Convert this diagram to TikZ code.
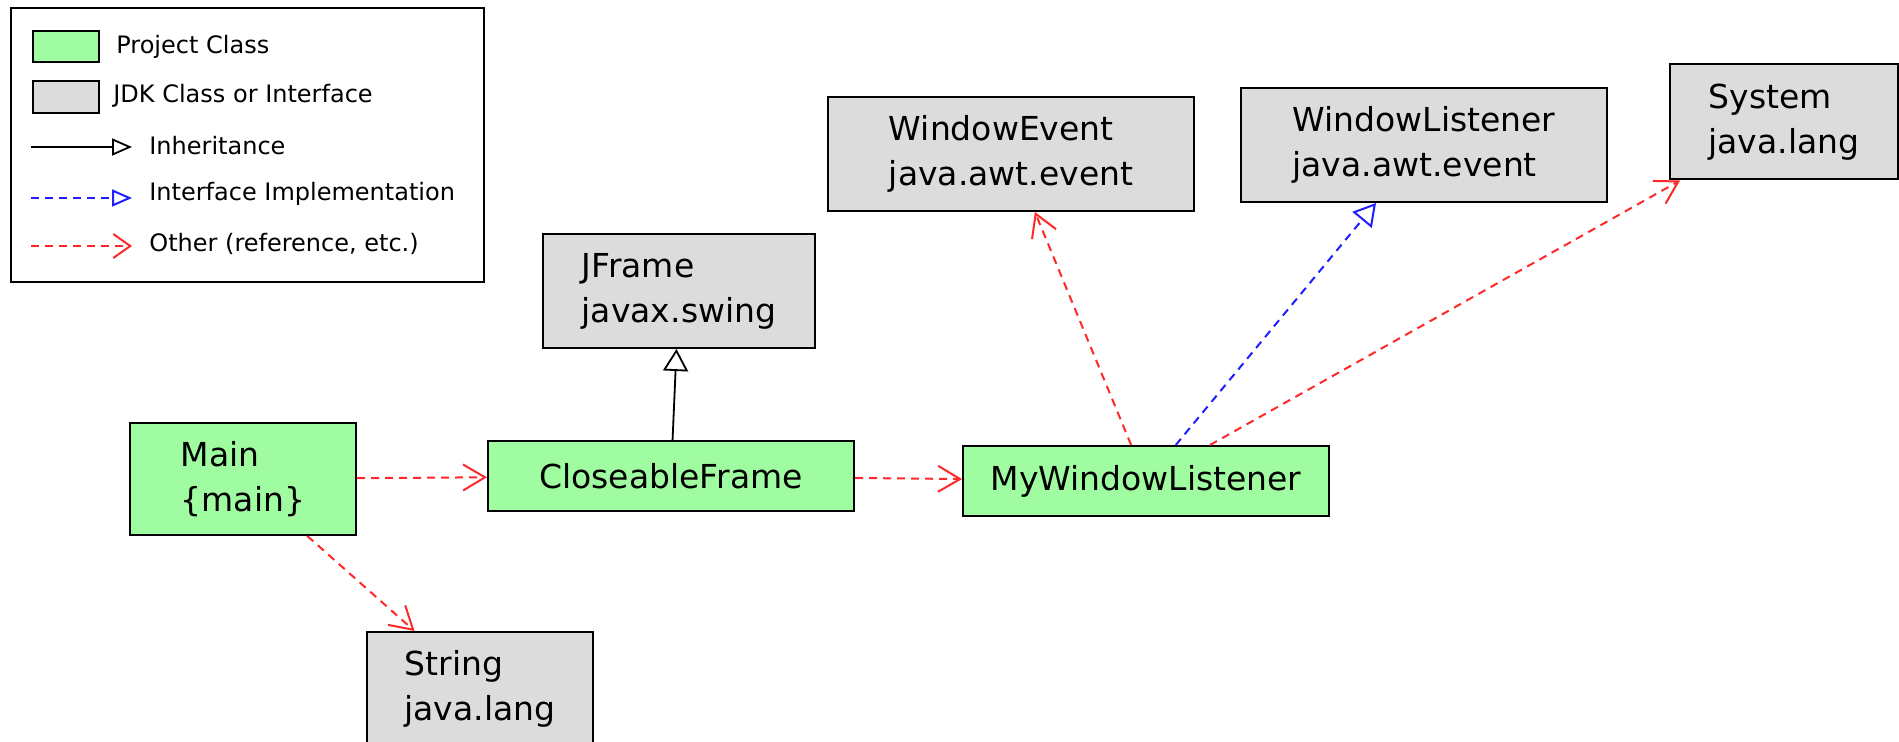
\documentclass[tikz,border=0pt]{standalone}
\usepackage{fontspec}
\setmainfont{DejaVu Sans}
\usetikzlibrary{arrows.meta}
\definecolor{projgreen}{RGB}{160,252,160}
\definecolor{jdkgray}{RGB}{220,220,220}
\definecolor{refred}{RGB}{255,40,40}
\definecolor{implblue}{RGB}{30,30,255}
\begin{document}
\begin{tikzpicture}[x=0.5pt,y=-0.5pt,
  classbox/.style={draw=black, line width=1pt, inner sep=0pt, align=left, font=\fontsize{16.5}{22.5}\selectfont},
  projclass/.style={classbox, fill=projgreen},
  jdkclass/.style={classbox, fill=jdkgray},
  legtext/.style={anchor=west, inner sep=0pt, font=\fontsize{12}{14}\selectfont},
  inhline/.style={line width=0.9pt, -{Triangle[open, length=11pt, width=12.5pt]}},
  implline/.style={draw=implblue, line width=1pt, dash pattern=on 4pt off 3pt, -{Triangle[open, length=11pt, width=12.5pt]}},
  refline/.style={draw=refred, line width=1pt, dash pattern=on 4pt off 3pt, -{Straight Barb[length=11pt, width=13pt]}}]
\useasboundingbox (0,0) rectangle (1899,742);

\draw[line width=1pt] (11,8) rectangle (484,282);
\node[projclass, minimum width=33pt, minimum height=15.5pt] (legproj) at (66,46.5) {};
\node[legtext] (legprojtxt) at (116,47) {Project Class};
\node[jdkclass, minimum width=33pt, minimum height=16pt] (legjdk) at (66,97) {};
\node[legtext] (legjdktxt) at (113,96) {JDK Class or Interface};
\coordinate (leginhA) at (31,147);
\coordinate (leginhB) at (132,147);
\draw[inhline, -{Triangle[open, length=10pt, width=8.5pt]}] (leginhA) -- (leginhB);
\node[legtext] (leginhtxt) at (149,146) {Inheritance};
\coordinate (legimplA) at (31,198);
\coordinate (legimplB) at (132,198);
\draw[implline, -{Triangle[open, length=10pt, width=8.5pt]}] (legimplA) -- (legimplB);
\node[legtext] (legimpltxt) at (149,194) {Interface Implementation};
\coordinate (legrefA) at (31,246);
\coordinate (legrefB) at (132,246);
\draw[refline, -{Straight Barb[length=8.5pt, width=12pt]}] (legrefA) -- (legrefB);
\node[legtext] (legreftxt) at (149,244) {Other (reference, etc.)};

\node[projclass, minimum width=113pt, minimum height=56pt] (main) at (243,479) {Main\\\{main\}};
\node[projclass, minimum width=183pt, minimum height=35pt] (cf) at (671,476) {CloseableFrame};
\node[projclass, minimum width=183pt, minimum height=35pt] (mwl) at (1146,481) {MyWindowListener};
\node[jdkclass, minimum width=136pt, minimum height=57pt] (jframe) at (679,291) {JFrame\\javax.swing};
\node[jdkclass, minimum width=183pt, minimum height=57pt] (wevent) at (1011,154) {WindowEvent\\java.awt.event};
\node[jdkclass, minimum width=183pt, minimum height=57pt] (wlist) at (1424,145) {WindowListener\\java.awt.event};
\node[jdkclass, minimum width=114pt, minimum height=57.5pt] (system) at (1784,122) {System\\java.lang};
\node[jdkclass, minimum width=113pt, minimum height=57pt] (string) at (480,689) {String\\java.lang};

\draw[refline] (main) -- (cf);
\draw[refline] (main) -- (string);
\draw[inhline] (cf) -- (jframe);
\draw[refline] (cf) -- (mwl);
\draw[refline] (mwl) -- (wevent);
\draw[implline] (mwl) -- (wlist);
\draw[refline] (mwl) -- (system);
\end{tikzpicture}
\end{document}
